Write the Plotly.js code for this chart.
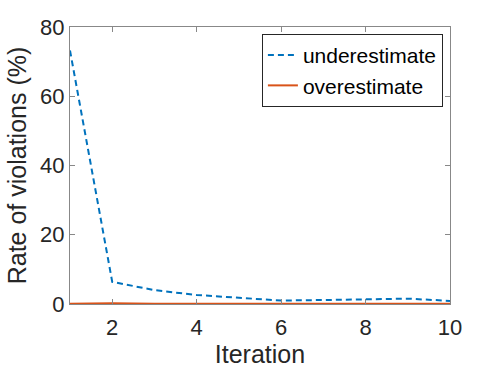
<!DOCTYPE html>
<html>
<head>
<meta charset="utf-8">
<script src="https://cdn.plot.ly/plotly-3.0.1.min.js"></script>
<style>
  body { margin: 0; background: #fff; }
  #chart { width: 498px; height: 374px; }
</style>
</head>
<body>
<div id="chart"></div>
<script>
var iteration = [1, 2, 3, 4, 5, 6, 7, 8, 9, 10];
var underestimate = [73.2, 6.4, 4.0, 2.6, 1.8, 1.0, 1.15, 1.35, 1.55, 0.9];
var overestimate = [0.1, 0.25, 0.1, 0.05, 0.05, 0.05, 0.05, 0.05, 0.05, 0.05];

var under = {
	type: 'scatter',
	x: iteration,
	y: underestimate,
	mode: 'lines',
	name: 'underestimate',
	line: { color: '#0072BD', width: 2, dash: '6px,4px' }
};

var over = {
	type: 'scatter',
	x: iteration,
	y: overestimate,
	mode: 'lines',
	name: 'overestimate',
	line: { color: '#D95319', width: 2 }
};

var axisStyle = {
	showline: true,
	linecolor: '#888',
	linewidth: 1,
	mirror: 'ticks',
	ticks: 'inside',
	ticklen: 5,
	tickcolor: '#888',
	showgrid: false,
	zeroline: false,
	tickfont: { size: 22, color: '#262626' }
};

var layout = {
	width: 498,
	height: 374,
	margin: { l: 70, r: 48, t: 27, b: 70 },
	paper_bgcolor: '#fff',
	plot_bgcolor: '#fff',
	font: { family: 'Liberation Sans, Arial, sans-serif', color: '#262626' },
	showlegend: true,
	legend: {
		x: 0.505, y: 0.975, xanchor: 'left', yanchor: 'top',
		bordercolor: '#262626', borderwidth: 1, bgcolor: '#fff',
		font: { size: 21, color: '#000' },
		tracegroupgap: 0
	},
	xaxis: Object.assign({}, axisStyle, {
		range: [1, 10],
		tickvals: [2, 4, 6, 8, 10],
		ticklabelstandoff: 4,
		title: { text: 'Iteration', font: { size: 25, color: '#262626' }, standoff: 6 }
	}),
	yaxis: Object.assign({}, axisStyle, {
		range: [0, 80],
		tickvals: [0, 20, 40, 60, 80],
		title: { text: 'Rate of violations (%)', font: { size: 25, color: '#262626' }, standoff: 6 }
	})
};

Plotly.newPlot('chart', [under, over], layout, { displayModeBar: false, staticPlot: true });
</script>
</body>
</html>
